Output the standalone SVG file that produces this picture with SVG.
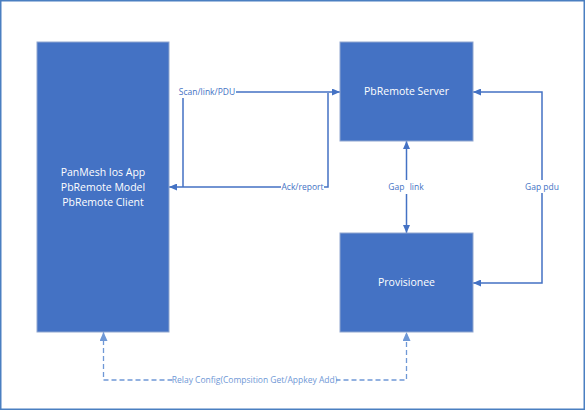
<svg xmlns="http://www.w3.org/2000/svg" width="585" height="410" viewBox="0 0 585 410">
<style>
.box{fill:#4472C4;stroke:#8fa6cf;stroke-width:1}
.bt{font-family:"Open Sans","Liberation Sans",sans-serif;font-size:10.5px;fill:#ffffff;text-anchor:middle}
.ln{fill:none;stroke:#4472C4;stroke-width:1.5}
.dl{fill:none;stroke:#6f98d6;stroke-width:1.3;stroke-dasharray:5,3}
.lb{font-family:"Open Sans","Liberation Sans",sans-serif;font-size:8.5px;fill:#4472C4;text-anchor:middle}
.dlb{font-family:"Open Sans","Liberation Sans",sans-serif;font-size:8.5px;fill:#6f98d6;text-anchor:middle}
</style>
<defs>
<marker id="ah" viewBox="0 0 10 10" refX="10" refY="5" markerWidth="8" markerHeight="7" markerUnits="userSpaceOnUse" orient="auto-start-reverse" preserveAspectRatio="none">
<path d="M0,0 L10,5 L0,10 z" fill="#4472C4"/>
</marker>
<marker id="ahd" viewBox="0 0 10 10" refX="10" refY="5" markerWidth="9" markerHeight="8" markerUnits="userSpaceOnUse" orient="auto-start-reverse" preserveAspectRatio="none">
<path d="M0,0 L10,5 L0,10 z" fill="#6f98d6"/>
</marker>
</defs>
<rect x="0" y="0" width="585" height="410" fill="#ffffff"/>
<rect x="0.75" y="0.75" width="583.5" height="408.5" fill="none" stroke="#4a7fc1" stroke-width="1.5"/>
<g id="connectors">
<path class="ln" d="M183,187 V92 H340" marker-end="url(#ah)"/>
<path class="ln" d="M328,93 V187 H169" marker-end="url(#ah)"/>
<path class="ln" d="M406.5,141 V233" marker-start="url(#ah)" marker-end="url(#ah)"/>
<path class="ln" d="M473,92 H542 V283 H473" marker-start="url(#ah)" marker-end="url(#ah)"/>
<path class="dl" d="M103.5,332 V380 H406.5 V332" marker-start="url(#ahd)" marker-end="url(#ahd)"/>
<rect x="178" y="85" width="58" height="13" fill="#ffffff"/>
<text class="lb" x="207" y="95">Scan/link/PDU</text>
<rect x="281" y="180" width="43" height="13" fill="#ffffff"/>
<text class="lb" x="302.5" y="190">Ack/report</text>
<rect x="388" y="180" width="37" height="14" fill="#ffffff"/>
<text class="lb" x="406" y="190" word-spacing="3">Gap link</text>
<rect x="524" y="180" width="36" height="13" fill="#ffffff"/>
<text class="lb" x="542" y="190">Gap pdu</text>
<rect x="173" y="374" width="163" height="12" fill="#ffffff"/>
<text class="dlb" x="254.5" y="383">Relay Config(Compsition Get/Appkey Add)</text>
</g>
<g id="app">
<rect class="box" x="37" y="42" width="132" height="290"/>
<text class="bt" x="103" y="176">PanMesh Ios App</text>
<text class="bt" x="103" y="191">PbRemote Model</text>
<text class="bt" x="103" y="206">PbRemote Client</text>
</g>
<g id="server">
<rect class="box" x="340" y="42" width="133" height="99"/>
<text class="bt" x="406.5" y="95">PbRemote Server</text>
</g>
<g id="provisionee">
<rect class="box" x="340" y="233" width="133" height="99"/>
<text class="bt" x="406.5" y="286">Provisionee</text>
</g>
</svg>
